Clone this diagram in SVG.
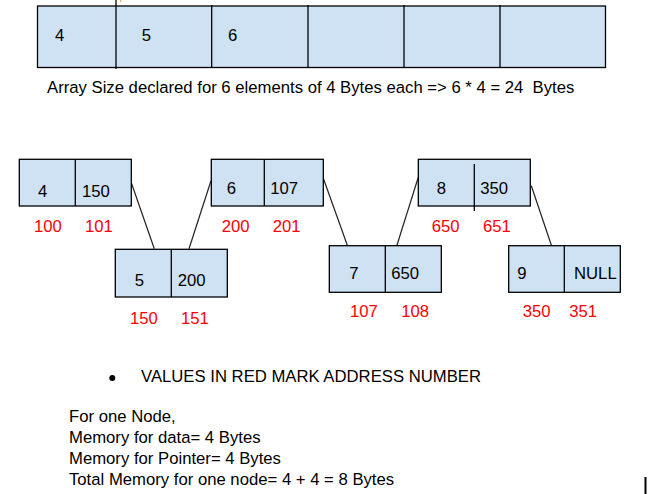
<svg xmlns="http://www.w3.org/2000/svg" width="656" height="494" viewBox="0 0 656 494">
<style>
.box{fill:#cfe2f3;stroke:#000;stroke-width:1.3}
.div{stroke:#000;stroke-width:1.3;fill:none}
.t{font-family:"Liberation Sans",Arial,sans-serif;font-size:16.7px;fill:#000}
.r{font-family:"Liberation Sans",Arial,sans-serif;font-size:16.7px;fill:#ff0000}
.conn line{stroke:#222;stroke-width:1.2}
</style>
<rect width="656" height="494" fill="#fff"/>
<g id="array">
<rect class="box" x="37.5" y="6" width="568" height="61.5"/>
<line class="div" x1="116" y1="0" x2="116" y2="69"/>
<line class="div" x1="211.7" y1="5" x2="211.7" y2="67.5"/>
<line class="div" x1="308" y1="5" x2="308" y2="67.5"/>
<line class="div" x1="404" y1="5" x2="404" y2="67.5"/>
<line class="div" x1="500" y1="5" x2="500" y2="67.5"/>
<line x1="120.7" y1="0" x2="120.7" y2="2" stroke="#e69138" stroke-width="1"/>
<text class="t" x="55" y="40.7">4</text>
<text class="t" x="141.7" y="40.7">5</text>
<text class="t" x="228" y="40.7">6</text>
</g>
<text class="t" x="47" y="93.3" xml:space="preserve">Array Size declared for 6 elements of 4 Bytes each =&gt; 6 * 4 = 24  Bytes</text>
<g class="conn" id="connectors">
<line x1="131.3" y1="182.7" x2="154.3" y2="248.7"/>
<line x1="211" y1="180.7" x2="189" y2="248.7"/>
<line x1="323.3" y1="178.3" x2="347.3" y2="245.3"/>
<line x1="418.3" y1="177.3" x2="396.3" y2="247.3"/>
<line x1="531.3" y1="185.7" x2="553.3" y2="251"/>
</g>
<g id="node4">
<rect class="box" x="19.3" y="159.3" width="112" height="46.7"/>
<line class="div" x1="75.3" y1="159.3" x2="75.3" y2="206"/>
<text class="t" x="38" y="196.7">4</text>
<text class="t" x="82" y="196.7">150</text>
<text class="r" x="34" y="232">100</text>
<text class="r" x="85" y="232">101</text>
</g>
<g id="node5">
<rect class="box" x="115.3" y="249.3" width="112" height="47.7"/>
<line class="div" x1="171.3" y1="249.3" x2="171.3" y2="297"/>
<text class="t" x="134.7" y="286">5</text>
<text class="t" x="177.7" y="286">200</text>
<text class="r" x="130" y="324">150</text>
<text class="r" x="181" y="324">151</text>
</g>
<g id="node6">
<rect class="box" x="211.3" y="159.3" width="112" height="46.7"/>
<line class="div" x1="264.3" y1="159.3" x2="264.3" y2="206"/>
<text class="t" x="226.7" y="194.3">6</text>
<text class="t" x="270.3" y="194.3">107</text>
<text class="r" x="221.7" y="232">200</text>
<text class="r" x="272.7" y="232">201</text>
</g>
<g id="node7">
<rect class="box" x="329.3" y="245.7" width="112" height="46.6"/>
<line class="div" x1="385.3" y1="245.7" x2="385.3" y2="292.3"/>
<text class="t" x="349.3" y="279.3">7</text>
<text class="t" x="391.3" y="279.3">650</text>
<text class="r" x="350" y="316.7">107</text>
<text class="r" x="401.3" y="316.7">108</text>
</g>
<g id="node8">
<rect class="box" x="418.3" y="159.3" width="112" height="46.7"/>
<line class="div" x1="474.3" y1="164" x2="474.3" y2="211"/>
<text class="t" x="436.7" y="194.3">8</text>
<text class="t" x="480.3" y="194.3">350</text>
<text class="r" x="431.7" y="232">650</text>
<text class="r" x="483" y="232">651</text>
</g>
<g id="node9">
<rect class="box" x="508.7" y="245.7" width="111.6" height="46.6"/>
<line class="div" x1="564.3" y1="245.7" x2="564.3" y2="292.3"/>
<text class="t" x="517.3" y="279.3">9</text>
<text class="t" x="574" y="279.3">NULL</text>
<text class="r" x="522.7" y="316.7">350</text>
<text class="r" x="569.3" y="316.7">351</text>
</g>
<g id="notes">
<circle cx="112.3" cy="378" r="3" fill="#000"/>
<text class="t" x="141" y="382">VALUES IN RED MARK ADDRESS NUMBER</text>
<text class="t" x="69" y="422.3">For one Node,</text>
<text class="t" x="69" y="443.3">Memory for data= 4 Bytes</text>
<text class="t" x="69" y="464.3">Memory for Pointer= 4 Bytes</text>
<text class="t" x="69" y="485">Total Memory for one node= 4 + 4 = 8 Bytes</text>
<rect x="644.5" y="477" width="2" height="17" fill="#000"/>
</g>
</svg>
